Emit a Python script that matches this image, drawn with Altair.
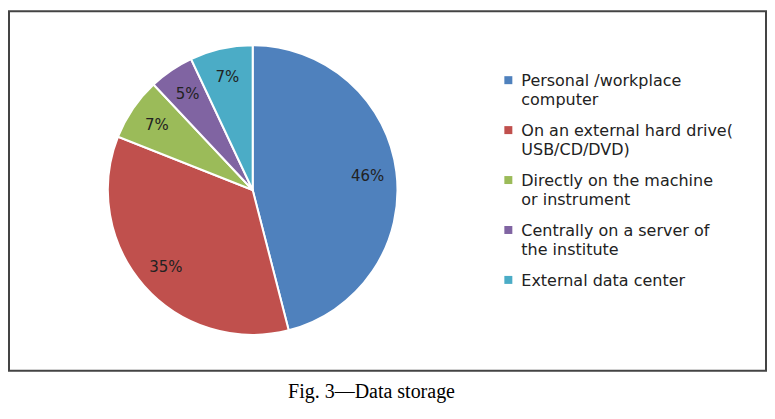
import altair as alt
import pandas as pd

categories = [
    "Personal /workplace computer",
    "On an external hard drive( USB/CD/DVD)",
    "Directly on the machine or instrument",
    "Centrally on a server of the institute",
    "External data center",
]
legend_labels = [
    "Personal /workplace\ncomputer",
    "On an external hard drive(\nUSB/CD/DVD)",
    "Directly on the machine\nor instrument",
    "Centrally on a server of\nthe institute",
    "External data center",
]
values = [46, 35, 7, 5, 7]
pct_labels = ["46%", "35%", "7%", "5%", "7%"]
colors = ["#4F81BD", "#C0504D", "#9BBB59", "#8064A2", "#4BACC6"]
caption = "Fig. 3\u2014Data storage"

df = pd.DataFrame({
    "cat": categories,
    "legend": legend_labels,
    "value": values,
    "pct": pct_labels,
    "idx": list(range(len(categories))),
})

color = alt.Color("cat:N", scale=alt.Scale(domain=categories, range=colors), legend=None)
cx, cy, R = 244, 179, 145

base = alt.Chart(df)

pie = base.mark_arc(outerRadius=R, stroke="white", strokeWidth=2).encode(
    theta=alt.Theta("value:Q", stack=True),
    order=alt.Order("idx:Q"),
    color=color,
    x=alt.value(cx),
    y=alt.value(cy),
)

pie_text = base.mark_text(radius=R * 0.8, fontSize=15, font="DejaVu Sans", color="#222").encode(
    theta=alt.Theta("value:Q", stack=True),
    order=alt.Order("idx:Q"),
    text="pct:N",
    x=alt.value(cx),
    y=alt.value(cy),
)

yleg = alt.Y("idx:O", scale=alt.Scale(type="point", range=[69, 269], padding=0), axis=None)

leg_sq = base.mark_square(size=64, opacity=1, filled=True).encode(
    x=alt.value(500),
    y=yleg,
    color=color,
)

leg_txt = base.mark_text(align="left", baseline="alphabetic", dy=6, fontSize=16,
                         font="DejaVu Sans", color="#222", lineBreak="\n",
                         lineHeight=19).encode(
    x=alt.value(513),
    y=yleg,
    text="legend:N",
)

cap = alt.Chart(pd.DataFrame({"t": [caption]})).mark_text(
    font="Liberation Serif", fontSize=20, color="#000", align="center", baseline="middle"
).encode(x=alt.value(363), y=alt.value(381), text="t:N")

chart = alt.layer(pie, pie_text, leg_sq, leg_txt, cap).properties(
    width=758, height=360,
    padding={"left": 1, "top": 3, "right": 1, "bottom": 45},
    autosize="none",
    background="white",
).configure_view(stroke="#444", strokeWidth=2)

chart.save("out.html", embed_options={"renderer": "svg", "actions": False})
